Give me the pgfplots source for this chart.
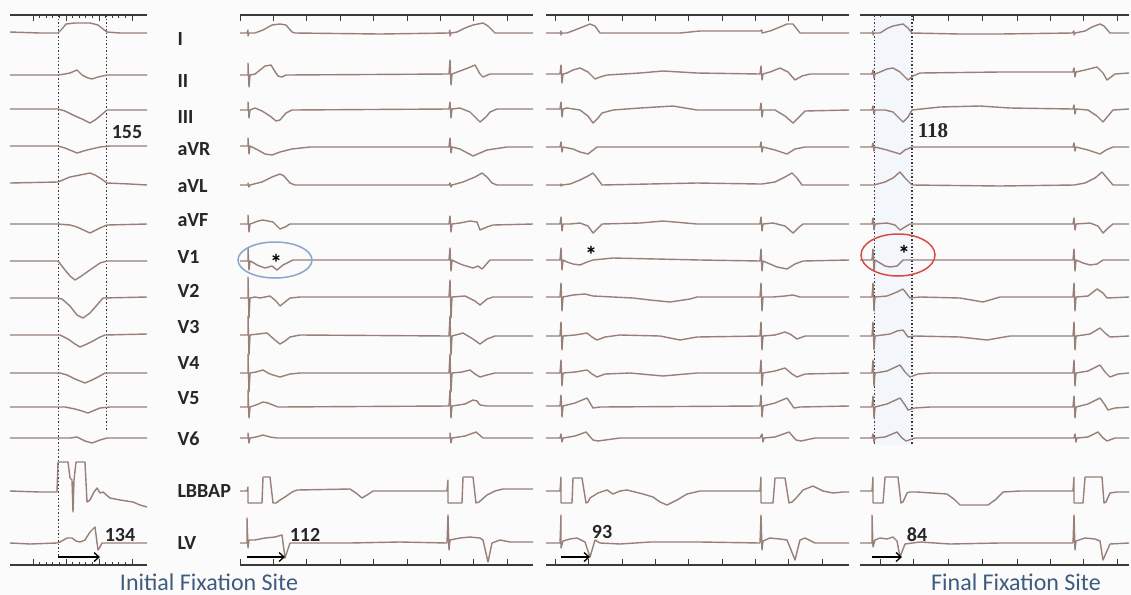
\documentclass[border=0pt]{standalone}
\usepackage{pgfplots}
\pgfplotsset{compat=1.18}
\usepackage{fontspec}
\setmainfont{Carlito}
\newfontfamily\slabfont{Liberation Serif}
\usetikzlibrary{arrows.meta}

\definecolor{trc}{RGB}{152,128,120}
\definecolor{bord}{RGB}{58,58,58}
\definecolor{lab}{RGB}{38,38,38}
\definecolor{site}{RGB}{62,92,128}
\definecolor{ringblue}{RGB}{140,165,200}
\definecolor{ringred}{RGB}{215,75,70}
\definecolor{paleblue}{RGB}{243,247,252}
\definecolor{bg}{RGB}{251,251,251}

\pgfplotsset{
  panel/.style={
    anchor=north west,
    x=1bp, y=1bp, y dir=reverse,
    ymin=15, ymax=565,
    axis x line=box, axis y line=none,
    axis line style={draw=bord, line width=2.4bp},
    ytick=\empty, xticklabels={},
    tick align=inside, xtick pos=both,
    major tick length=6bp, minor tick length=3bp,
    minor x tick num=4,
    tick style={bord, line width=1bp},
    clip=false,
  },
  tr/.style={trc, line width=1.4bp, line join=round, mark=none},
  dot/.style={bord, line width=1bp, dash pattern=on 1.5bp off 2bp, mark=none},
}
\newcommand{\lead}[2]{\node[anchor=west, text=lab, font=\fontsize{20bp}{24bp}\selectfont\bfseries] at (axis cs:174,#1) {#2};}
\newcommand{\num}[3]{\node[text=lab, font=\fontsize{20bp}{24bp}\selectfont\bfseries] at (axis cs:#1,#2) {#3};}
\newcommand{\astk}[2]{\node[text=black, font=\fontsize{24bp}{24bp}\selectfont\bfseries] at (axis cs:#1,#2) {*};}

\begin{document}
\begin{tikzpicture}
\fill[bg] (0,0) rectangle (1131bp,-595bp);

% ---------- panel 1: intrinsic conduction ----------
\begin{axis}[panel, at={(10bp,-15bp)}, xmin=10, xmax=147, xtick={33,66,99,132}]
\addplot[dot] coordinates {(58,15) (58,557)};
\addplot[dot] coordinates {(106,15) (106,430)};
\addplot[tr] coordinates {(10,32) (40,33) (58,33) (62,29) (66,24) (75,23) (90,23) (98,25) (103,29) (107,32) (120,33) (147,33)};
\addplot[tr] coordinates {(10,75) (58,75) (65,74) (70,73) (77,70) (82,75) (88,78) (92,79) (98,77) (107,75) (147,75)};
\addplot[tr] coordinates {(10,109) (58,109) (65,111) (73,115) (82,119) (90,123) (95,120) (100,116) (107,110) (147,110)};
\addplot[tr] coordinates {(10,146) (58,146) (65,148) (77,153) (87,150) (100,147) (110,146) (147,146)};
\addplot[tr] coordinates {(10,183) (58,182) (70,177) (80,175) (90,173) (95,175) (100,178) (107,183) (130,184) (147,185)};
\addplot[tr] coordinates {(10,224) (58,224) (70,225) (77,227) (90,233) (100,228) (107,225) (147,224)};
\addplot[tr] coordinates {(10,261) (58,261) (62,266) (65,270) (70,276) (75,280) (80,277) (87,272) (100,263) (107,261) (147,261)};
\addplot[tr] coordinates {(10,298) (58,298) (62,299) (70,306) (77,315) (83,318) (90,313) (97,305) (103,298) (147,297)};
\addplot[tr] coordinates {(10,335) (60,335) (68,339) (75,344) (80,347) (87,344) (93,341) (100,337) (105,335) (147,334)};
\addplot[tr] coordinates {(10,373) (60,373) (67,375) (75,379) (85,383) (92,380) (98,377) (105,373) (147,373)};
\addplot[tr] coordinates {(10,407) (65,407) (75,409) (82,411) (88,413) (95,410) (100,408) (110,407) (147,407)};
\addplot[tr] coordinates {(10,438) (70,438) (77,437) (85,441) (92,443) (100,440) (107,438) (147,438)};
\addplot[tr] coordinates {(10,491) (40,492) (57,492) (58,462) (68,462) (70,478) (72,480) (73,512) (74,480) (76,462) (85,462) (87,502) (90,500) (94,492) (97,488) (100,493) (103,492) (110,498) (120,500) (133,502) (140,505) (147,507)};
\addplot[tr] coordinates {(10,543) (30,544) (57,543) (60,542) (67,538) (72,538) (76,541) (80,542) (85,540) (90,532) (95,527) (98,550) (100,547) (102,543) (110,543) (147,543)};
\draw[-{Straight Barb[length=5bp,width=9bp]}, black, line width=1.3bp] (axis cs:58,557) -- (axis cs:100,557);
\num{127}{132}{155}
\num{120}{535}{134}
% lead names
\lead{39}{I}
\lead{81}{II}
\lead{117}{III}
\lead{149}{aVR}
\lead{186}{aVL}
\lead{220}{aVF}
\lead{257}{V1}
\lead{291}{V2}
\lead{327}{V3}
\lead{363}{V4}
\lead{398}{V5}
\lead{439}{V6}
\lead{491}{LBBAP}
\lead{543}{LV}
\node[text=site, font=\fontsize{24bp}{28bp}\selectfont] at (axis cs:209,582) {Initial Fixation Site};
\node[text=site, font=\fontsize{24bp}{28bp}\selectfont] at (axis cs:1016,582) {Final Fixation Site};
\end{axis}

% ---------- panel 2: initial fixation site ----------
\begin{axis}[panel, at={(240bp,-15bp)}, xmin=240, xmax=533, xtick={240,273,306,340,373,407,440,473,507}]
\addplot[tr] coordinates {(240,33) (247,33) (248,30) (248,36) (249,33) (255,33) (263,30) (272,25) (280,24) (286,25) (292,32) (295,33) (380,34) (449,33) (450,30) (450,36) (451,33) (457,32) (465,28) (473,25) (483,23) (488,26) (495,33) (533,33)};
\addplot[tr] coordinates {(240,75) (248,75) (248,63) (249,87) (250,75) (255,74) (260,70) (265,66) (271,65) (274,70) (278,76) (282,77) (286,75) (449,74) (450,60) (451,85) (452,74) (460,71) (468,68) (475,65) (480,74) (483,77) (490,74) (533,74)};
\addplot[tr] coordinates {(240,110) (248,110) (248,102) (249,118) (250,110) (255,108) (262,111) (270,116) (276,121) (280,120) (286,113) (292,110) (449,109) (450,102) (451,118) (452,109) (460,108) (470,112) (475,117) (480,122) (486,117) (490,112) (497,109) (533,109)};
\addplot[tr] coordinates {(240,146) (248,146) (248,138) (249,154) (250,146) (258,150) (265,154) (272,155) (280,152) (292,149) (310,147) (449,147) (450,138) (451,153) (452,147) (460,149) (473,156) (487,150) (507,147) (533,147)};
\addplot[tr] coordinates {(240,185) (248,185) (248,183) (249,187) (250,185) (262,182) (272,177) (280,174) (284,176) (290,183) (295,185) (449,185) (450,183) (451,187) (452,185) (463,182) (475,177) (482,173) (487,177) (492,183) (497,185) (533,185)};
\addplot[tr] coordinates {(240,224) (248,224) (248,215) (249,232) (250,224) (253,223) (258,221) (263,220) (273,222) (280,229) (285,227) (290,224) (449,224) (450,216) (451,232) (452,224) (460,223) (470,221) (477,222) (480,230) (487,227) (493,225) (533,224)};
\addplot[tr] coordinates {(240,261) (248,261) (248,248) (249,270) (250,261) (254,263) (257,265) (265,268) (272,266) (277,270) (283,265) (293,260) (449,260) (450,248) (451,271) (452,260) (458,263) (463,265) (473,268) (478,266) (482,269) (490,260) (533,260)};
\addplot[tr] coordinates {(240,298) (248,298) (248,277) (249,318) (250,298) (255,297) (260,298) (270,296) (276,301) (280,306) (285,302) (290,298) (300,297) (449,297) (450,280) (451,318) (452,297) (465,296) (475,301) (480,305) (487,299) (493,297) (533,297)};
\addplot[tr] coordinates {(240,335) (248,335) (248,316) (249,355) (250,335) (258,334) (267,333) (275,340) (280,344) (285,341) (290,337) (300,335) (449,336) (450,316) (451,355) (452,336) (463,333) (473,339) (480,344) (487,339) (495,336) (533,336)};
\addplot[tr] coordinates {(240,373) (248,373) (248,354) (249,392) (250,373) (256,372) (263,370) (268,373) (273,375) (280,377) (290,374) (300,373) (449,373) (450,354) (451,392) (452,373) (462,372) (470,370) (475,374) (480,377) (487,375) (495,373) (533,373)};
\addplot[tr] coordinates {(240,407) (248,407) (248,390) (249,418) (250,407) (256,405) (263,402) (268,403) (273,405) (278,407) (449,406) (450,390) (451,418) (452,406) (465,404) (473,400) (477,401) (480,405) (487,406) (533,406)};
\addplot[tr] coordinates {(240,438) (248,438) (248,433) (249,443) (250,438) (256,437) (263,435) (270,437) (277,438) (450,438) (450,433) (451,443) (452,438) (465,436) (476,432) (483,438) (533,438)};
\addplot[tr] coordinates {(240,491) (247,491) (248,487) (248,503) (262,503) (263,477) (270,477) (273,503) (276,503) (280,500) (285,497) (292,492) (297,490) (350,489) (356,493) (362,498) (367,495) (373,491) (447,491) (448,480) (448,503) (462,503) (463,477) (473,477) (476,503) (479,502) (487,495) (495,491) (503,489) (533,489)};
\addplot[tr] coordinates {(240,543) (247,543) (247,518) (248,548) (249,540) (255,540) (265,538) (275,537) (282,535) (285,558) (290,543) (300,543) (350,543) (400,542) (447,543) (448,515) (449,550) (450,540) (460,538) (470,537) (480,538) (483,540) (488,562) (492,543) (500,540) (510,542) (533,542)};
\draw[ringblue, line width=1.5bp] (axis cs:275,260) ellipse [x radius=37bp, y radius=18bp];
\astk{276}{263}
\draw[-{Straight Barb[length=5bp,width=9bp]}, black, line width=1.3bp] (axis cs:247,557) -- (axis cs:285,557);
\num{305}{535}{112}
\end{axis}

% ---------- panel 3 ----------
\begin{axis}[panel, at={(546bp,-15bp)}, xmin=546, xmax=849, xtick={555,588,622,655,688,722,755,788,822}]
\addplot[tr] coordinates {(546,33) (560,33) (561,31) (561,35) (562,33) (567,33) (575,30) (580,28) (590,24) (595,26) (600,33) (680,33) (700,31) (760,31) (762,30) (762,33) (770,31) (780,27) (787,24) (793,24) (800,33) (849,33)};
\addplot[tr] coordinates {(546,74) (560,74) (561,65) (562,83) (563,74) (567,73) (573,70) (580,68) (588,72) (595,79) (600,77) (607,75) (640,73) (663,71) (697,73) (760,74) (761,66) (762,80) (763,74) (770,72) (780,68) (788,72) (795,80) (802,76) (810,74) (849,74)};
\addplot[tr] coordinates {(546,109) (560,109) (561,102) (562,117) (563,109) (567,108) (580,110) (588,116) (593,123) (598,118) (602,113) (613,110) (640,108) (673,106) (697,110) (760,110) (761,103) (762,117) (763,110) (775,110) (785,116) (793,123) (798,118) (805,111) (849,110)};
\addplot[tr] coordinates {(546,147) (560,147) (561,142) (562,152) (563,147) (573,149) (580,152) (588,154) (597,147) (760,147) (761,142) (762,152) (763,147) (775,150) (787,154) (795,149) (805,147) (849,147)};
\addplot[tr] coordinates {(546,185) (560,185) (561,184) (561,186) (562,185) (570,184) (580,180) (588,176) (593,173) (597,178) (602,185) (697,183) (760,184) (762,184) (775,182) (785,177) (792,173) (797,178) (802,185) (849,185)};
\addplot[tr] coordinates {(546,224) (560,224) (561,217) (562,231) (563,224) (570,224) (580,223) (588,226) (593,233) (598,228) (602,224) (640,223) (663,221) (697,224) (760,224) (761,217) (762,231) (763,224) (773,223) (785,226) (793,233) (798,228) (803,224) (849,224)};
\addplot[tr] coordinates {(546,260) (560,260) (561,248) (562,270) (563,260) (567,262) (573,264) (580,265) (587,262) (593,260) (613,258) (700,260) (760,261) (761,249) (762,271) (763,261) (770,264) (777,267) (787,269) (795,264) (803,261) (849,260)};
\addplot[tr] coordinates {(546,297) (560,297) (561,283) (562,311) (563,297) (573,295) (585,294) (593,296) (633,298) (650,300) (670,302) (690,299) (697,297) (760,297) (761,283) (762,311) (763,297) (773,297) (785,296) (793,295) (800,297) (849,297)};
\addplot[tr] coordinates {(546,336) (560,336) (561,322) (562,350) (563,336) (575,335) (587,333) (592,337) (597,340) (605,337) (620,335) (660,336) (680,340) (697,337) (760,336) (761,322) (762,350) (763,336) (775,335) (785,332) (790,334) (797,339) (805,336) (849,336)};
\addplot[tr] coordinates {(546,373) (560,373) (561,360) (562,386) (563,373) (575,372) (587,370) (592,374) (597,377) (605,374) (630,373) (663,376) (697,373) (760,373) (761,360) (762,386) (763,373) (775,371) (785,368) (792,374) (797,377) (805,374) (849,373)};
\addplot[tr] coordinates {(546,406) (560,406) (561,395) (562,417) (563,406) (575,403) (587,398) (593,408) (600,407) (760,406) (761,395) (762,417) (763,406) (775,403) (787,398) (794,408) (800,407) (849,406)};
\addplot[tr] coordinates {(546,438) (560,438) (561,434) (562,442) (563,438) (575,436) (586,432) (593,440) (598,441) (620,438) (760,438) (762,434) (763,442) (764,438) (775,437) (789,432) (796,440) (801,441) (815,438) (849,438)};
\addplot[tr] coordinates {(546,491) (560,491) (561,477) (561,503) (572,503) (573,478) (582,478) (586,503) (588,502) (590,498) (598,493) (607,490) (613,494) (620,491) (627,490) (643,494) (653,497) (660,502) (667,505) (677,500) (687,494) (700,491) (760,491) (761,477) (761,503) (773,503) (775,478) (785,478) (789,503) (792,502) (797,497) (803,490) (813,486) (823,491) (833,493) (843,492) (849,492)};
\addplot[tr] coordinates {(546,543) (560,543) (561,515) (561,548) (563,541) (570,539) (577,538) (585,542) (590,557) (595,540) (600,543) (620,544) (650,542) (700,542) (760,543) (761,515) (762,550) (763,541) (770,538) (780,539) (787,540) (795,560) (800,540) (805,538) (815,543) (849,543)};
\astk{591}{255}
\draw[-{Straight Barb[length=5bp,width=9bp]}, black, line width=1.3bp] (axis cs:561,557) -- (axis cs:590,557);
\num{602}{532}{93}
\end{axis}

% ---------- panel 4: final fixation site ----------
\begin{axis}[panel, at={(860bp,-15bp)}, xmin=860, xmax=1129, xtick={880,913,948,982,1017,1050,1083,1117}]
\fill[paleblue] (axis cs:874,17) rectangle (axis cs:912,445);
\addplot[dot] coordinates {(874,15) (874,445)};
\addplot[dot, line width=1.4bp] coordinates {(912,15) (912,445)};
\addplot[tr] coordinates {(860,33) (872,33) (873,31) (873,35) (874,33) (880,33) (888,28) (893,26) (903,24) (908,28) (912,33) (960,34) (1000,34) (1072,33) (1074,31) (1074,35) (1075,33) (1085,31) (1092,27) (1100,24) (1104,26) (1110,33) (1129,33)};
\addplot[tr] coordinates {(860,74) (872,74) (873,70) (874,78) (875,74) (880,72) (887,69) (893,68) (900,72) (903,75) (908,80) (913,76) (920,73) (1000,72) (1073,72) (1074,68) (1075,77) (1076,72) (1085,70) (1097,67) (1103,73) (1107,80) (1115,74) (1129,73)};
\addplot[tr] coordinates {(860,110) (872,110) (873,106) (874,114) (875,110) (885,110) (893,112) (898,117) (903,122) (908,117) (912,110) (940,107) (980,106) (1010,108) (1073,109) (1074,105) (1075,114) (1076,109) (1088,110) (1097,116) (1103,122) (1108,116) (1113,110) (1129,109)};
\addplot[tr] coordinates {(860,147) (872,147) (873,143) (874,151) (875,147) (887,150) (900,154) (905,150) (912,147) (1073,147) (1074,143) (1075,151) (1076,147) (1088,150) (1100,154) (1106,150) (1113,147) (1129,147)};
\addplot[tr] coordinates {(860,185) (872,185) (874,185) (885,182) (893,178) (900,172) (905,178) (912,185) (1000,186) (1074,185) (1085,183) (1095,178) (1102,172) (1107,178) (1113,185) (1129,185)};
\addplot[tr] coordinates {(860,224) (872,224) (873,218) (874,230) (875,224) (887,223) (895,225) (900,230) (905,227) (910,224) (1073,224) (1074,218) (1075,230) (1076,224) (1090,223) (1098,226) (1103,233) (1108,228) (1113,224) (1129,224)};
\addplot[tr] coordinates {(860,260) (872,260) (873,249) (874,271) (875,260) (880,263) (885,266) (890,267) (897,266) (903,260) (1073,260) (1074,249) (1075,271) (1076,260) (1083,263) (1090,265) (1097,264) (1103,260) (1129,260)};
\addplot[tr] coordinates {(860,297) (872,297) (873,283) (874,311) (875,297) (887,296) (897,292) (903,289) (910,298) (920,297) (960,298) (983,302) (1000,297) (1073,297) (1074,283) (1075,311) (1076,297) (1088,296) (1097,289) (1103,293) (1107,298) (1129,297)};
\addplot[tr] coordinates {(860,336) (872,336) (873,322) (874,350) (875,336) (890,334) (897,331) (903,330) (908,337) (915,336) (960,337) (987,340) (1010,336) (1073,336) (1074,322) (1075,350) (1076,336) (1090,334) (1100,328) (1105,333) (1110,337) (1129,336)};
\addplot[tr] coordinates {(860,373) (872,373) (873,360) (874,386) (875,373) (887,371) (900,365) (905,372) (910,377) (918,374) (930,373) (1073,373) (1074,360) (1075,386) (1076,373) (1088,371) (1100,365) (1105,372) (1110,377) (1118,374) (1129,373)};
\addplot[tr] coordinates {(860,407) (872,407) (873,396) (874,418) (875,407) (887,404) (900,398) (905,405) (908,410) (915,408) (930,407) (1073,407) (1074,396) (1075,418) (1076,407) (1088,404) (1100,398) (1105,405) (1108,410) (1115,408) (1129,407)};
\addplot[tr] coordinates {(860,438) (872,438) (873,434) (874,442) (875,438) (885,437) (897,432) (902,438) (906,441) (915,438) (1074,438) (1075,434) (1076,442) (1077,438) (1088,437) (1098,432) (1103,438) (1107,441) (1115,438) (1129,438)};
\addplot[tr] coordinates {(860,491) (872,491) (873,477) (873,503) (883,503) (885,477) (898,477) (901,503) (903,502) (907,493) (910,492) (917,492) (947,494) (955,500) (960,505) (988,505) (995,500) (1003,492) (1020,491) (1073,491) (1074,477) (1074,503) (1083,503) (1085,477) (1102,477) (1104,503) (1106,502) (1110,493) (1117,492) (1129,492)};
\addplot[tr] coordinates {(860,543) (872,543) (872,515) (873,547) (875,540) (880,538) (887,539) (893,537) (897,541) (900,557) (905,544) (920,542) (950,544) (1000,543) (1073,543) (1074,515) (1075,550) (1076,541) (1085,538) (1095,539) (1100,541) (1103,560) (1110,544) (1129,543)};
\draw[ringred, line width=1.5bp] (axis cs:898,255) ellipse [x radius=37bp, y radius=21bp];
\astk{904}{254}
\node[text=lab, font=\fontsize{21bp}{24bp}\selectfont\slabfont\bfseries] at (axis cs:933,131) {118};
\draw[-{Straight Barb[length=5bp,width=9bp]}, black, line width=1.3bp] (axis cs:872,557) -- (axis cs:902,557);
\num{917}{535}{84}
\end{axis}

\path (0,0) rectangle (1131bp,-595bp);
\end{tikzpicture}
\end{document}
